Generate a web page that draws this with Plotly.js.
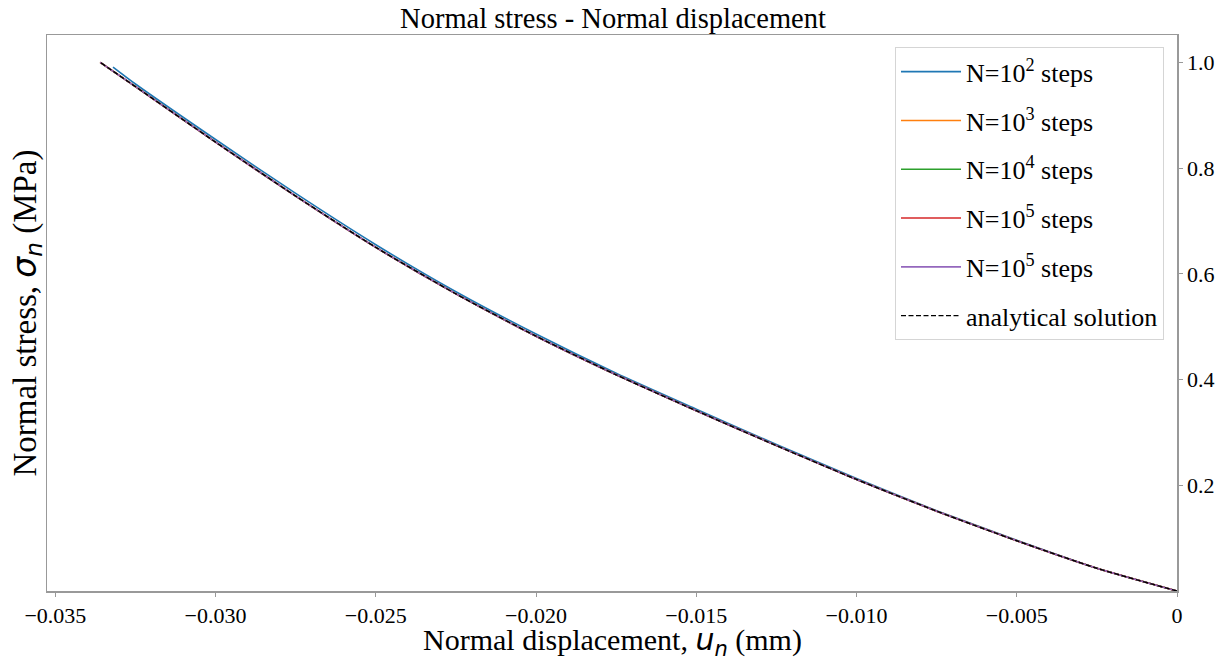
<!DOCTYPE html>
<html>
<head>
<meta charset="utf-8">
<script src="https://cdn.plot.ly/plotly-3.0.1.min.js"></script>
<style>html,body{margin:0;padding:0;background:#fff;}#chart{width:1226px;height:661px;}</style>
</head>
<body>
<div id="chart"></div>
<script>
// Normal displacement (mm) sample positions
const dispAnalytical = [0, -0.0025, -0.005, -0.0075, -0.010, -0.0125, -0.015, -0.0175, -0.020, -0.0225, -0.025, -0.0275, -0.030, -0.0325, -0.0336];
const stressAnalytical = [0, 0.043, 0.095, 0.151, 0.211, 0.275, 0.341, 0.409, 0.482, 0.562, 0.650, 0.747, 0.849, 0.954, 1.0];

const dispN2 = [0, -0.0025, -0.005, -0.0075, -0.010, -0.0125, -0.015, -0.0175, -0.020, -0.0225, -0.025, -0.0275, -0.030, -0.0325, -0.0332];
const stressN2 = [0, 0.043, 0.096, 0.152, 0.213, 0.277, 0.344, 0.412, 0.486, 0.566, 0.655, 0.752, 0.854, 0.959, 0.991];

const dispN3 = [0, -0.0025, -0.005, -0.0075, -0.010, -0.0125, -0.015, -0.0175, -0.020, -0.0225, -0.025, -0.0275, -0.030, -0.0325, -0.0336];
const stressN3 = [0, 0.043, 0.095, 0.151, 0.211, 0.275, 0.341, 0.409, 0.482, 0.562, 0.650, 0.747, 0.849, 0.954, 1.0];
const stressN4 = [0, 0.043, 0.095, 0.151, 0.211, 0.275, 0.341, 0.409, 0.482, 0.562, 0.650, 0.747, 0.849, 0.954, 1.0];
const stressN5 = [0, 0.043, 0.095, 0.151, 0.211, 0.275, 0.341, 0.409, 0.482, 0.562, 0.650, 0.747, 0.849, 0.954, 1.0];
const stressN5b = [0, 0.043, 0.095, 0.151, 0.211, 0.275, 0.341, 0.409, 0.482, 0.562, 0.650, 0.747, 0.849, 0.954, 1.0];

const seriesNames = ['N=10<sup>2</sup> steps', 'N=10<sup>3</sup> steps', 'N=10<sup>4</sup> steps', 'N=10<sup>5</sup> steps', 'N=10<sup>5</sup> steps', 'analytical solution'];
const seriesColors = ['#1f77b4', '#ff7f0e', '#2ca02c', '#d62728', '#9467bd', '#000000'];

const xTickVals = [-0.035, -0.030, -0.025, -0.020, -0.015, -0.010, -0.005, 0];
const xTickText = ['\u22120.035', '\u22120.030', '\u22120.025', '\u22120.020', '\u22120.015', '\u22120.010', '\u22120.005', '0'];
const yTickVals = [0.2, 0.4, 0.6, 0.8, 1.0];
const yTickText = ['0.2', '0.4', '0.6', '0.8', '1.0'];

const serif = 'Liberation Serif, Times New Roman, serif';
const xs = [dispN2, dispN3, dispN3, dispN3, dispN3, dispAnalytical];
const ys = [stressN2, stressN3, stressN4, stressN5, stressN5b, stressAnalytical];

const traces = xs.map((x, i) => ({
  x: x, y: ys[i], type: 'scatter', mode: 'lines', name: seriesNames[i],
  legendgroup: 'g' + i,
  line: {color: seriesColors[i], width: i === 5 ? 1.4 : 1.6, dash: i === 5 ? '5px,2.5px' : 'solid', shape: 'spline', smoothing: 0.6}
}));

const layout = {
  width: 1226, height: 661,
  margin: {l: 47, r: 49, t: 35, b: 70},
  paper_bgcolor: '#fff', plot_bgcolor: '#fff',
  title: {text: 'Normal stress - Normal displacement', font: {family: serif, size: 28.5, color: '#000'}, x: 0.5, xanchor: 'center', y: 0.972, yanchor: 'middle'},
  xaxis: {
    range: [-0.03526, 0], tickvals: xTickVals, ticktext: xTickText,
    showline: true, mirror: true, linecolor: '#999', linewidth: 1.5,
    ticks: 'outside', ticklen: 4, tickcolor: '#999', tickwidth: 1,
    showgrid: false, zeroline: false,
    tickfont: {family: serif, size: 22, color: '#000'}
  },
  yaxis: {
    range: [0, 1.0517], tickvals: yTickVals, ticktext: yTickText, side: 'right',
    showline: true, mirror: true, linecolor: '#999', linewidth: 1.5,
    ticks: 'outside', ticklen: 4, tickcolor: '#999', tickwidth: 1,
    showgrid: false, zeroline: false,
    tickfont: {family: serif, size: 22, color: '#000'}
  },
  annotations: [{
    text: 'Normal stress, <span style="font-family:DejaVu Sans"><i>σ<sub>n</sub></i></span> (MPa)',
    xref: 'paper', yref: 'paper', x: -0.019, y: 0.5, xanchor: 'center', yanchor: 'middle',
    textangle: -90, showarrow: false, font: {family: serif, size: 33, color: '#000'}
  }, {
    text: 'Normal displacement, <span style="font-family:DejaVu Sans"><i>u<sub>n</sub></i></span> (mm)',
    xref: 'paper', yref: 'paper', x: 0.5, y: -0.091, xanchor: 'center', yanchor: 'middle',
    showarrow: false, font: {family: serif, size: 30, color: '#000'}
  }],
  legend: {
    x: 0.9885, y: 0.978, xanchor: 'right', yanchor: 'top',
    bgcolor: '#fff', bordercolor: '#d5d5d5', borderwidth: 1,
    font: {family: serif, size: 26, color: '#000'},
    traceorder: 'grouped', tracegroupgap: 12, itemwidth: 60
  },
  showlegend: true
};

Plotly.newPlot('chart', traces, layout, {displayModeBar: false, staticPlot: true});
</script>
</body>
</html>
